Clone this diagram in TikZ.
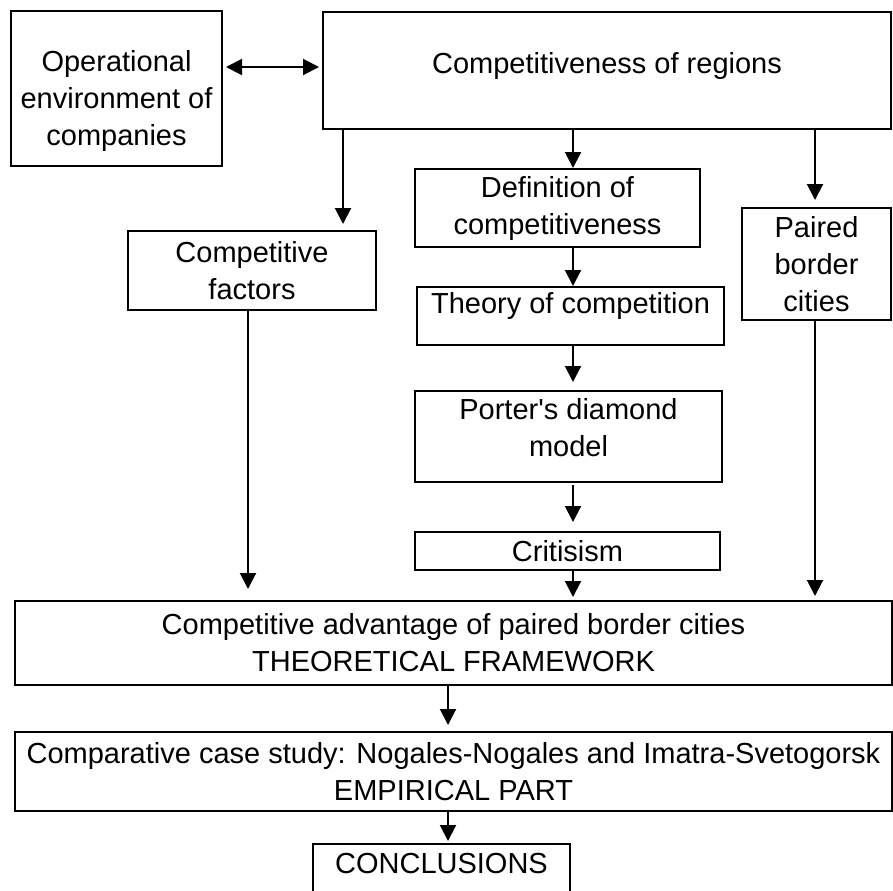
\documentclass[tikz,border=0pt]{standalone}
\usepackage{fontspec}
\setmainfont{Liberation Sans}
\usetikzlibrary{arrows.meta}

\tikzset{
	box/.style={draw, line width=1pt, inner sep=0pt, align=center,
		font=\fontsize{14.5}{18.5}\selectfont},
	arr/.style={-{Triangle[length=8pt,width=8pt]}, line width=1pt},
}

\begin{document}
\begin{tikzpicture}[x=0.5pt,y=-0.5pt]
	\useasboundingbox (0,0) rectangle (893,890);
	%\draw[lightgray] (0,0) grid[step=50] (893,890);
	\coordinate (c1) at (343,0);
	\coordinate (c2) at (573,0);
	\coordinate (c3) at (815,0);
	\coordinate (c4) at (248,0);
	\coordinate (c5) at (448,0);
	\coordinate (lvl) at (0,67);

	\node[box, minimum width=105.5pt, text height=67pt, text depth=10.5pt] (env) at (116.5,88.5)
		{Operational\\environment of\\companies};
	\node[box, minimum width=284pt, text height=30.5pt, text depth=28pt] (regions) at (607,70.5)
		{Competitiveness of regions};
	\node[box, minimum width=142.5pt, minimum height=39pt] (def) at (557.5,208)
		{Definition of\\competitiveness};
	\node[box, minimum width=124pt, minimum height=39.5pt] (factors) at (252,270.5)
		{Competitive\\factors};
	\node[box, minimum width=74.5pt, minimum height=56pt] (paired) at (816.5,264)
		{Paired\\border\\cities};
	\node[box, minimum width=153.5pt, text height=13pt, text depth=16pt] (theory) at (570.5,316)
		{Theory of competition};
	\node[box, minimum width=153.5pt, text height=32.5pt, text depth=13pt] (porter) at (568.5,436.5)
		{Porter\textquotesingle s diamond\\model};
	\node[box, minimum width=152.5pt, minimum height=19pt] (crit) at (567.5,551)
		{Critisism};
	\node[box, minimum width=438.5pt, minimum height=42pt] (adv) at (453.5,643)
		{Competitive advantage of paired border cities\\THEORETICAL FRAMEWORK};
	\node[box, minimum width=438.5pt, minimum height=39.5pt] (case) at (453.5,771.5)
		{Comparative case study: Nogales-Nogales and Imatra-Svetogorsk\\EMPIRICAL PART};
	\node[box, minimum width=128.5pt, text height=14.5pt, text depth=13.5pt] (concl) at (441.5,872)
		{CONCLUSIONS};

	\draw[arr, {Triangle[length=8pt,width=8pt]}-{Triangle[length=8pt,width=8pt]}, shorten <=1.5pt, shorten >=1.5pt]
		(env.east |- lvl) -- (regions.west |- lvl);
	\draw[arr, shorten >=3pt] (regions.south -| c1) -- (factors.north -| c1);
	\draw[arr] (regions.south -| c2) -- (def.north -| c2);
	\draw[arr, shorten >=3.5pt] (regions.south -| c3) -- (paired.north -| c3);

	\draw[arr] (def.south -| c2) -- (theory.north -| c2);
	\draw[arr, shorten >=4pt] (theory.south -| c2) -- (porter.north -| c2);
	\draw[arr, shorten <=1pt, shorten >=4.5pt] (porter.south -| c2) -- (crit.north -| c2);
	\draw[arr, shorten >=1.5pt] (crit.south -| c2) -- (adv.north -| c2);

	\draw[arr, shorten >=5.5pt] (factors.south -| c4) -- (adv.north -| c4);
	\draw[arr, shorten >=2pt] (paired.south -| c3) -- (adv.north -| c3);

	\draw[arr, shorten >=3pt] (adv.south -| c5) -- (case.north -| c5);
	\draw[arr, shorten >=1pt] (case.south -| c5) -- (concl.north -| c5);
\end{tikzpicture}
\end{document}
